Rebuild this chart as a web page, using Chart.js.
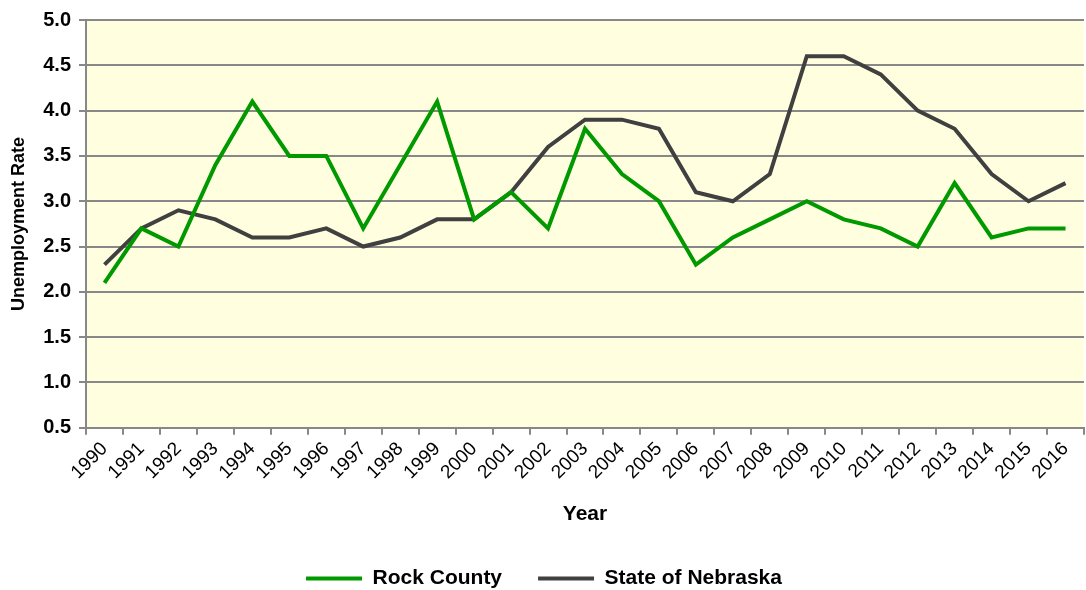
<!DOCTYPE html>
<html>
<head>
<meta charset="utf-8">
<script src="https://cdn.jsdelivr.net/npm/chart.js@4/dist/chart.umd.min.js"></script>
<style>
  body { margin: 0; background: #fff; }
  #wrap { width: 1086px; height: 590px; }
</style>
</head>
<body>
<div id="wrap"><canvas id="rateChart"></canvas></div>
<script>
const years = ['1990','1991','1992','1993','1994','1995','1996','1997','1998','1999','2000','2001','2002','2003','2004','2005','2006','2007','2008','2009','2010','2011','2012','2013','2014','2015','2016'];
const rockCounty = [2.1, 2.7, 2.5, 3.4, 4.1, 3.5, 3.5, 2.7, 3.4, 4.1, 2.8, 3.1, 2.7, 3.8, 3.3, 3.0, 2.3, 2.6, 2.8, 3.0, 2.8, 2.7, 2.5, 3.2, 2.6, 2.7, 2.7];
const nebraska = [2.3, 2.7, 2.9, 2.8, 2.6, 2.6, 2.7, 2.5, 2.6, 2.8, 2.8, 3.1, 3.6, 3.9, 3.9, 3.8, 3.1, 3.0, 3.3, 4.6, 4.6, 4.4, 4.0, 3.8, 3.3, 3.0, 3.2];

// achtergrond van het plotgebied
const plotBg = {
  id: 'plotBg',
  beforeDraw(chart) {
    const a = chart.chartArea;
    const ctx = chart.ctx;
    ctx.save();
    ctx.fillStyle = '#FFFFE0';
    ctx.fillRect(a.left, a.top, a.right - a.left, a.bottom - a.top);
    ctx.restore();
  }
};

const font = 'Arial, "Liberation Sans", sans-serif';

new Chart(document.getElementById('rateChart'), {
  type: 'line',
  data: {
    labels: years,
    datasets: [
      { label: 'Rock County', data: rockCounty, borderColor: '#009900', backgroundColor: '#009900', borderWidth: 4, pointRadius: 0, tension: 0, fill: false },
      { label: 'State of Nebraska', data: nebraska, borderColor: '#404040', backgroundColor: '#404040', borderWidth: 4, pointRadius: 0, tension: 0, fill: false }
    ]
  },
  options: {
    responsive: true,
    maintainAspectRatio: false,
    animation: false,
    layout: { padding: { top: 6, right: 2, left: 4, bottom: -9 } },
    plugins: {
      tooltip: { enabled: false },
      legend: {
        position: 'bottom',
        labels: {
          usePointStyle: true,
          pointStyle: 'line',
          pointStyleWidth: 56,
          boxHeight: 4,
          padding: 36,
          color: '#000',
          font: { family: font, size: 21, weight: 'bold' }
        }
      }
    },
    scales: {
      x: {
        offset: true,
        grid: { offset: true, drawOnChartArea: false, color: '#888', lineWidth: 2, tickLength: 7 },
        border: { color: '#888', width: 2 },
        ticks: { color: '#000', maxRotation: 45, minRotation: 45, autoSkip: false, padding: 3, font: { family: font, size: 19 } },
        title: { display: true, text: 'Year', color: '#000', padding: { top: 15, bottom: 5 }, font: { family: font, size: 21, weight: 'bold' } }
      },
      y: {
        min: 0.5,
        max: 5.0,
        afterFit: scale => { scale.width = 82; },
        grid: { color: '#888', lineWidth: 2, tickLength: 7 },
        border: { color: '#888', width: 2 },
        ticks: { stepSize: 0.5, color: '#000', padding: 8, font: { family: font, size: 20, weight: 'bold' }, callback: v => v.toFixed(1) },
        title: { display: true, text: 'Unemployment Rate', color: '#000', padding: { bottom: 6 }, font: { family: font, size: 18, weight: 'bold' } }
      }
    }
  },
  plugins: [plotBg]
});
</script>
</body>
</html>
